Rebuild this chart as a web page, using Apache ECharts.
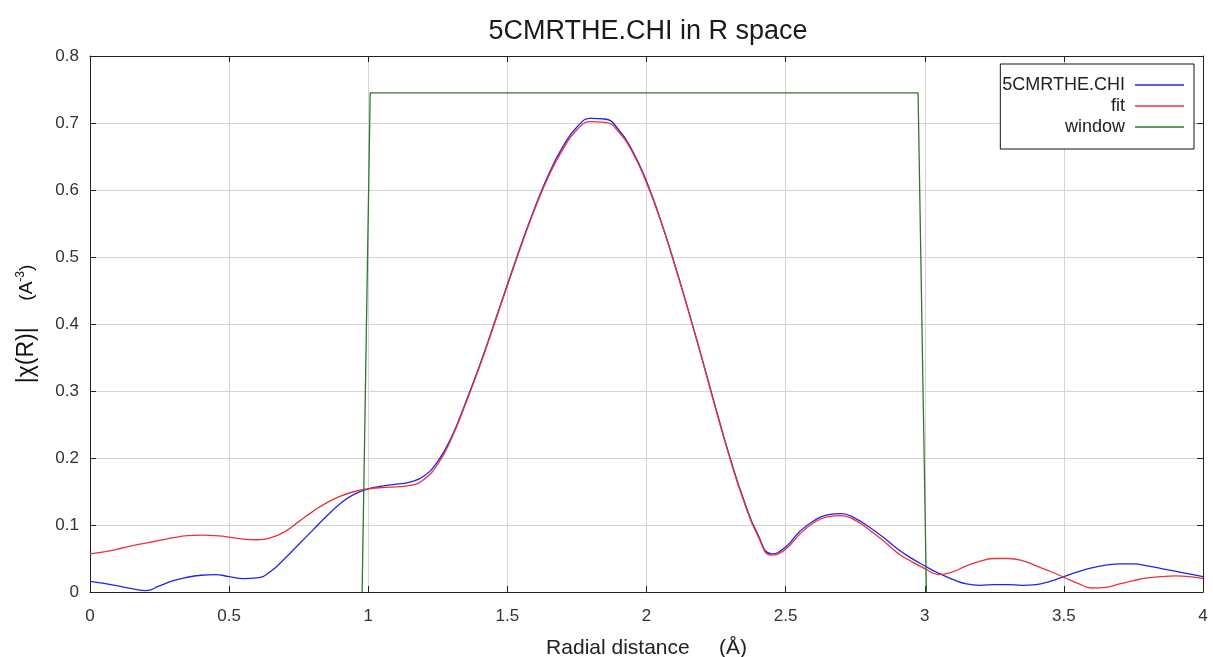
<!DOCTYPE html>
<html>
<head>
<meta charset="utf-8">
<script src="https://cdn.jsdelivr.net/npm/echarts@6/dist/echarts.min.js"></script>
<style>
html,body{margin:0;padding:0;background:#fff;}
#chart{width:1213px;height:657px;}
</style>
</head>
<body>
<div id="chart"></div>
<script>
const rGrid = [0.00,0.05,0.10,0.15,0.20,0.25,0.30,0.35,0.40,0.45,0.50,0.55,0.60,0.65,0.70,0.75,0.80,0.85,0.90,0.95,
1.00,1.05,1.10,1.15,1.20,1.25,1.30,1.35,1.40,1.45,1.50,1.55,1.60,1.65,1.70,1.75,1.80,1.85,1.90,1.95,
2.00,2.05,2.10,2.15,2.20,2.25,2.30,2.35,2.40,2.45,2.50,2.55,2.60,2.65,2.70,2.75,2.80,2.85,2.90,2.95,
3.00,3.05,3.10,3.15,3.20,3.25,3.30,3.35,3.40,3.45,3.50,3.55,3.60,3.65,3.70,3.75,3.80,3.85,3.90,3.95,4.00];

const dataChi = [0.016,0.013,0.009,0.005,0.002,0.009,0.017,0.022,0.025,0.026,0.023,0.020,0.021,0.031,0.050,0.071,0.092,0.113,0.132,0.146,
0.154,0.158,0.161,0.164,0.173,0.195,0.232,0.283,0.338,0.398,0.459,0.519,0.575,0.625,0.665,0.694,0.707,0.706,0.690,0.658,
0.613,0.556,0.491,0.421,0.348,0.273,0.201,0.137,0.086,0.057,0.067,0.090,0.106,0.115,0.117,0.110,0.097,0.082,0.065,0.051,
0.039,0.028,0.019,0.012,0.010,0.011,0.011,0.010,0.011,0.016,0.023,0.030,0.036,0.040,0.042,0.042,0.039,0.035,0.031,0.027,0.023];

const fitChi = [0.057,0.060,0.064,0.069,0.073,0.077,0.081,0.084,0.085,0.084,0.082,0.079,0.078,0.081,0.090,0.105,0.120,0.133,0.143,0.150,
0.154,0.156,0.157,0.159,0.168,0.191,0.230,0.281,0.336,0.396,0.457,0.517,0.573,0.622,0.661,0.690,0.702,0.701,0.687,0.656,
0.611,0.555,0.490,0.420,0.347,0.271,0.199,0.135,0.084,0.055,0.064,0.086,0.103,0.112,0.114,0.107,0.093,0.077,0.059,0.046,
0.035,0.026,0.030,0.039,0.046,0.050,0.050,0.047,0.039,0.031,0.022,0.013,0.006,0.007,0.012,0.017,0.021,0.023,0.024,0.023,0.020];

const windowR = [0.978, 1.007, 2.976, 3.006];
const windowY = [0, 0.745, 0.745, 0];

const seriesNames = ['5CMRTHE.CHI', 'fit', 'window'];
const titleText = '5CMRTHE.CHI in R space';

function pairs(xs, ys){ return xs.map((x,i)=>[x, ys[i]]); }

const chart = echarts.init(document.getElementById('chart'), null, {renderer:'canvas'});
const font = '"Liberation Sans", Arial, sans-serif';
const axisCol = '#222';
chart.setOption({
  animation:false,
  backgroundColor:'#fff',
  textStyle:{fontFamily:font},
  title:{text:titleText, left:643, textAlign:'center', top:13,
    textStyle:{fontFamily:font, fontSize:27, fontWeight:'normal', color:'#1a1a1a'}},
  legend:{
    data:seriesNames, orient:'vertical', right:19, top:64, align:'right',
    icon:'rect', itemWidth:49, itemHeight:1.5, itemGap:1,
    padding:[11,10,12,2],
    borderColor:'#111', borderWidth:1, backgroundColor:'#fff',
    textStyle:{fontFamily:font, fontSize:18, color:'#222', lineHeight:20, padding:[0,5,0,0]}
  },
  grid:{left:90, right:10, top:56, bottom:65, containLabel:false, outerBoundsMode:'none'},
  xAxis:[{
    type:'value', min:0, max:4, interval:0.5,
    name:'Radial distance     (Å)', nameLocation:'middle', nameGap:46,
    nameTextStyle:{fontFamily:font, fontSize:21, color:'#222'},
    axisLine:{show:true, onZero:false, lineStyle:{color:axisCol, width:1}},
    axisTick:{show:true, inside:true, length:6, lineStyle:{color:axisCol}},
    axisLabel:{fontFamily:font, fontSize:17, color:'#333', margin:16},
    splitLine:{show:true, lineStyle:{color:'#d4d4d4', width:1}}
  },{
    type:'value', min:0, max:4, interval:0.5, position:'top',
    axisLine:{show:true, onZero:false, lineStyle:{color:axisCol, width:1}},
    axisTick:{show:true, inside:true, length:6, lineStyle:{color:axisCol}},
    axisLabel:{show:false}, splitLine:{show:false}
  }],
  yAxis:[{
    type:'value', min:0, max:0.8, interval:0.1,
    name:'{a||χ(R)|}        {b|(A}{c|-3}{b|)}', nameLocation:'middle', nameGap:52,
    nameTextStyle:{fontFamily:font, color:'#111',
      rich:{
        a:{fontFamily:font, fontSize:23, color:'#111'},
        b:{fontFamily:font, fontSize:19, color:'#111'},
        c:{fontFamily:font, fontSize:12, color:'#111', verticalAlign:'top', padding:[0,0,8,0]}
      }},
    axisLine:{show:true, onZero:false, lineStyle:{color:axisCol, width:1}},
    axisTick:{show:true, inside:true, length:6, lineStyle:{color:axisCol}},
    axisLabel:{fontFamily:font, fontSize:17, color:'#333', margin:11},
    splitLine:{show:true, lineStyle:{color:'#d4d4d4', width:1}}
  },{
    type:'value', min:0, max:0.8, interval:0.1, position:'right',
    axisLine:{show:true, onZero:false, lineStyle:{color:axisCol, width:1}},
    axisTick:{show:true, inside:true, length:6, lineStyle:{color:axisCol}},
    axisLabel:{show:false}, splitLine:{show:false}
  }],
  series:[
    {name:seriesNames[0], type:'line', data:pairs(rGrid, dataChi), smooth:true, showSymbol:false,
      itemStyle:{color:'#2424e8'}, lineStyle:{color:'#2424e8', width:1.3}, z:3},
    {name:seriesNames[1], type:'line', data:pairs(rGrid, fitChi), smooth:true, showSymbol:false,
      itemStyle:{color:'#e8333a'}, lineStyle:{color:'#e8333a', width:1.3}, z:4},
    {name:seriesNames[2], type:'line', data:pairs(windowR, windowY), smooth:false, showSymbol:false,
      itemStyle:{color:'#2d7a2d'}, lineStyle:{color:'#2d7a2d', width:1.3}, z:5}
  ]
});
</script>
</body>
</html>
